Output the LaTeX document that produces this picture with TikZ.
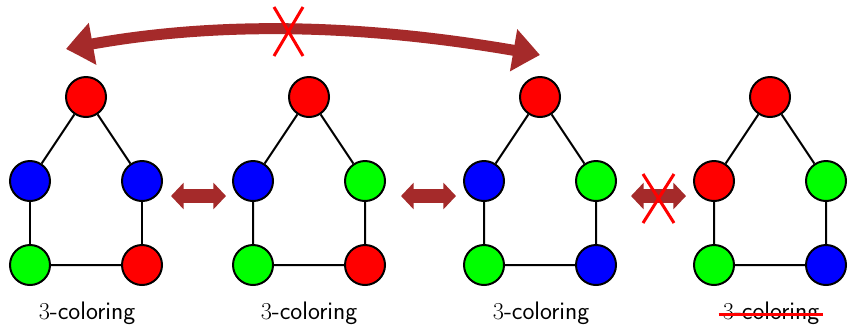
\documentclass[tikz,border=0pt]{standalone}
\usetikzlibrary{arrows.meta,bending}
\definecolor{arrowbrown}{RGB}{165,42,42}
\tikzset{
  vtx/.style={circle,draw,line width=1.7pt,minimum size=1.2cm,inner sep=0pt},
  link/.style={line width=1.7pt},
  swaparrow/.style={arrowbrown,line width=0.42cm,{Triangle[length=0.38cm,width=0.78cm]}-{Triangle[length=0.38cm,width=0.78cm]}},
  bigarrow/.style={arrowbrown,line width=0.33cm,{Triangle[length=0.81cm,width=1.23cm,bend]}-{Triangle[length=0.81cm,width=1.23cm,bend]}},
  nomark/.style={red,line width=0.09cm},
  lbl/.style={font=\sffamily\fontsize{21.6}{26}\selectfont}
}
\begin{document}
\begin{tikzpicture}[x=0.03cm,y=-0.03cm]
\useasboundingbox (0,0) rectangle (848,326);
%graph 1
\node[vtx,fill=red]   (g1t)  at (86,97) {};
\node[vtx,fill=blue]  (g1l)  at (30,181) {};
\node[vtx,fill=blue]  (g1r)  at (142,181) {};
\node[vtx,fill=green] (g1bl) at (30,265) {};
\node[vtx,fill=red]   (g1br) at (142,265) {};
\draw[link] (g1t) -- (g1l) -- (g1bl) -- (g1br) -- (g1r) -- (g1t);
\node[lbl] (c1) at (87,313) {$3$-coloring};
%graph 2
\node[vtx,fill=red]   (g2t)  at (309,97) {};
\node[vtx,fill=blue]  (g2l)  at (253,181) {};
\node[vtx,fill=green] (g2r)  at (365,181) {};
\node[vtx,fill=green] (g2bl) at (253,265) {};
\node[vtx,fill=red]   (g2br) at (365,265) {};
\draw[link] (g2t) -- (g2l) -- (g2bl) -- (g2br) -- (g2r) -- (g2t);
\node[lbl] (c2) at (309,313) {$3$-coloring};
%graph 3
\node[vtx,fill=red]   (g3t)  at (540,97) {};
\node[vtx,fill=blue]  (g3l)  at (484,181) {};
\node[vtx,fill=green] (g3r)  at (596,181) {};
\node[vtx,fill=green] (g3bl) at (484,265) {};
\node[vtx,fill=blue]  (g3br) at (596,265) {};
\draw[link] (g3t) -- (g3l) -- (g3bl) -- (g3br) -- (g3r) -- (g3t);
\node[lbl] (c3) at (541,313) {$3$-coloring};
%graph 4 (not proper)
\node[vtx,fill=red]   (g4t)  at (770,97) {};
\node[vtx,fill=red]   (g4l)  at (714,181) {};
\node[vtx,fill=green] (g4r)  at (826,181) {};
\node[vtx,fill=green] (g4bl) at (714,265) {};
\node[vtx,fill=blue]  (g4br) at (826,265) {};
\draw[link] (g4t) -- (g4l) -- (g4bl) -- (g4br) -- (g4r) -- (g4t);
\node[lbl] (c4) at (771,313) {$3$-coloring};
\draw[nomark] ([yshift=-1]c4.west) -- ([yshift=-1]c4.east); %strike

%moves between colorings
\coordinate (s1a) at (171,196); \coordinate (s1b) at (226,196);
\coordinate (s2a) at (401,196); \coordinate (s2b) at (456,196);
\coordinate (s3a) at (631,196); \coordinate (s3b) at (686,196);
\draw[swaparrow] (s1a) -- (s1b);
\draw[swaparrow] (s2a) -- (s2b);
\draw[swaparrow] (s3a) -- (s3b);
\draw[nomark] (643,174) -- (674,223);
\draw[nomark] (674,174) -- (643,223);

%long jump
\coordinate (jl) at (66,49);
\coordinate (jr) at (540,55);
\draw[bigarrow] (jr) .. controls (363,22) and (205,20) .. (jl);
\draw[nomark] (274,7) -- (303,56);
\draw[nomark] (303,7) -- (274,56);
\end{tikzpicture}
\end{document}
